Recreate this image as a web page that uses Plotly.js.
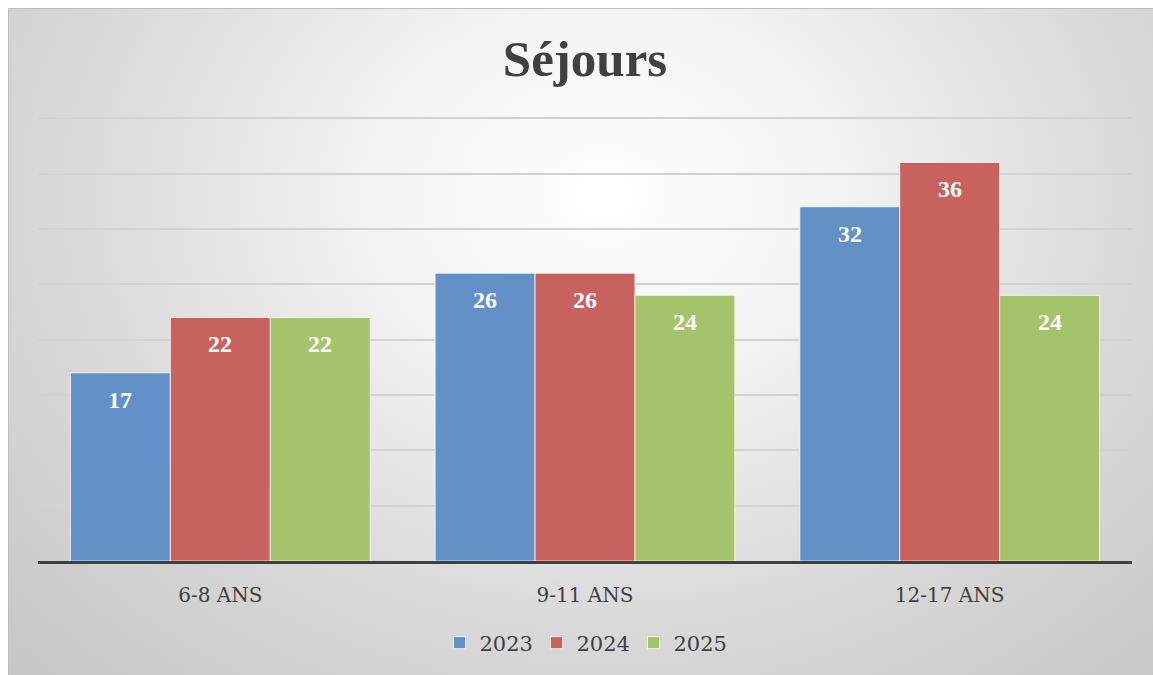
<!DOCTYPE html>
<html>
<head>
<meta charset="utf-8">
<script src="https://cdn.plot.ly/plotly-3.0.1.min.js"></script>
<style>
  html, body { margin: 0; padding: 0; background: #ffffff; }
  #bg {
    position: absolute; left: 8px; top: 8px; width: 1145px; height: 667px;
    background: radial-gradient(ellipse farthest-corner at 52% 28%, #ffffff 0%, #f3f3f3 28%, #dadada 62%, #c6c6c6 100%);
    border-top: 1px solid #bdbdbd; border-left: 1px solid #bdbdbd;
    box-sizing: border-box;
  }
  #chart { position: absolute; left: 0; top: 0; width: 1153px; height: 675px; }
</style>
</head>
<body>
<div id="bg"></div>
<div id="chart"></div>
<script>
const categories = ["6-8 ANS", "9-11 ANS", "12-17 ANS"];
const seriesNames = ["2023", "2024", "2025"];
const values2023 = [17, 26, 32];
const values2024 = [22, 26, 36];
const values2025 = [22, 24, 24];
const colors = ["#6391c7", "#c8625f", "#a5c36b"];

const allValues = [values2023, values2024, values2025];

const traces = allValues.map((vals, i) => ({
  type: "bar",
  name: seriesNames[i],
  x: categories,
  y: vals,
  marker: { color: colors[i], line: { color: "rgba(255,255,255,0.75)", width: 1 } },
  hoverinfo: "x+y+name"
}));

const annotations = [];
allValues.forEach((vals, i) => {
  vals.forEach((v, j) => {
    annotations.push({
      x: categories[j], y: v, xref: "x", yref: "y",
      text: String(v), showarrow: false,
      xanchor: "center", yanchor: "top",
      xshift: (i - 1) * 100, yshift: -12,
      font: { family: "Liberation Serif", size: 24, color: "#ffffff", weight: "bold" }
    });
  });
});

const layout = {
  width: 1153, height: 675,
  paper_bgcolor: "rgba(0,0,0,0)",
  plot_bgcolor: "rgba(0,0,0,0)",
  margin: { l: 38, r: 21, t: 116, b: 114 },
  title: {
    text: "<b>Séjours</b>",
    font: { family: "Liberation Serif", size: 51, color: "#404040" },
    x: 0.5, xanchor: "center", xref: "paper",
    y: 1 - 58 / 675, yanchor: "middle", yref: "container"
  },
  barmode: "group",
  bargap: 0.178,
  bargroupgap: 0,
  xaxis: {
    type: "category",
    showline: true, linecolor: "#404040", linewidth: 3,
    showgrid: false, zeroline: false,
    ticks: "", ticklabelstandoff: 14,
    tickfont: { family: "DejaVu Serif", size: 20, color: "#404040" }
  },
  yaxis: {
    range: [0, 40.2], dtick: 5, tick0: 0,
    showticklabels: false, ticks: "",
    showgrid: true, gridcolor: "#d2d2d2", gridwidth: 1.5,
    zeroline: false, showline: false, fixedrange: true
  },
  showlegend: true,
  legend: {
    orientation: "h", x: 0.5, xanchor: "center", xref: "paper",
    y: 1 - 643 / 675, yanchor: "middle", yref: "container",
    font: { family: "DejaVu Serif", size: 21, color: "#404040" },
    entrywidth: 52, entrywidthmode: "pixels",
    bgcolor: "rgba(0,0,0,0)"
  },
  annotations: annotations
};

Plotly.newPlot("chart", traces, layout, { displayModeBar: false });
</script>
</body>
</html>
